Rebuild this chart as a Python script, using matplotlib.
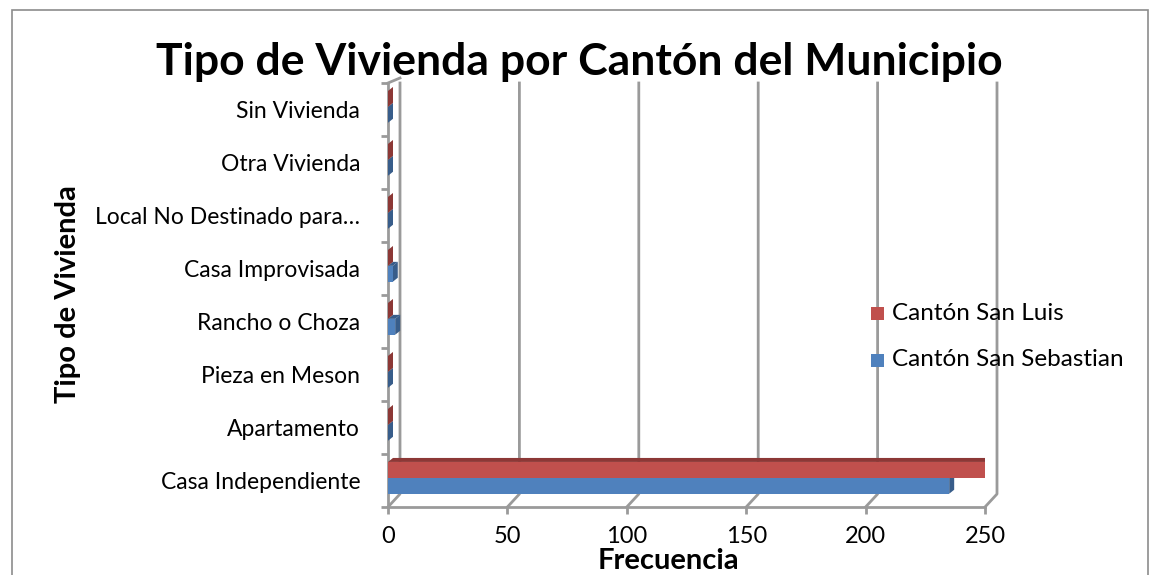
import matplotlib
matplotlib.use("Agg")
import numpy as np
import matplotlib.pyplot as plt
from matplotlib.patches import Polygon, Rectangle

categorias = ["Casa Independiente", "Apartamento", "Pieza en Meson", "Rancho o Choza",
              "Casa Improvisada", "Local No Destinado para…", "Otra Vivienda", "Sin Vivienda"]
san_luis = [250, 0, 0, 0, 0, 0, 0, 0]
san_sebastian = [235, 0, 0, 3, 2, 0, 0, 0]
x_ticks = [0, 50, 100, 150, 200, 250]

ROJO, ROJO_OSC = "#C0504D", "#8C3836"
AZUL, AZUL_OSC = "#4F81BD", "#385D8A"
GRIS = "#9A9A9A"

plt.rcParams['font.family'] = ['Lato', 'DejaVu Sans']

W, H = 1150, 575
fig = plt.figure(figsize=(W / 100, H / 100), dpi=100)
ax_l, ax_r, ax_t, ax_b = 388, 985, 83, 507
ax = fig.add_axes([ax_l / W, 1 - ax_b / H, (ax_r - ax_l) / W, (ax_b - ax_t) / H])
ax.set_xlim(0, 250)
ax.set_ylim(-0.5, len(categorias) - 0.5)

# pixeles -> unidades de datos
px_x = 250 / (ax_r - ax_l)
px_y = len(categorias) / (ax_b - ax_t)

# paredes 3D: lineas de cuadricula desplazadas hacia atras
wall_dx, wall_dy = 12 * px_x, 13 * px_y
y0 = -0.5
y_top = len(categorias) - 0.5
for xt in x_ticks:
    ax.plot([xt, xt + wall_dx, xt + wall_dx], [y0, y0 + wall_dy, y_top],
            color=GRIS, lw=2, clip_on=False, zorder=1)
ax.plot([0, wall_dx], [y_top, y_top + 5 * px_y], color=GRIS, lw=2, clip_on=False, zorder=1)

# barras con caras laterales
pos = np.arange(len(categorias))
h = 0.3
bar_dx, bar_dy = 5 * px_x, 4 * px_y
series = [(san_sebastian, pos - 0.15 + 0.05, AZUL, AZUL_OSC),
          (san_luis, pos + 0.15 + 0.05, ROJO, ROJO_OSC)]
for vals, ys, col, col_osc in series:
    for v, yc in zip(vals, ys):
        yb, yt = yc - h / 2, yc + h / 2
        top = Polygon([(0, yt), (bar_dx, yt + bar_dy), (v + bar_dx, yt + bar_dy), (v, yt)],
                      closed=True, facecolor=col_osc, edgecolor="none", zorder=3)
        side = Polygon([(v, yb), (v + bar_dx, yb + bar_dy), (v + bar_dx, yt + bar_dy), (v, yt)],
                       closed=True, facecolor=col_osc, edgecolor="none", zorder=3)
        ax.add_patch(top)
        ax.add_patch(side)
    ax.barh(ys, vals, height=h, color=col, zorder=4)

# ejes
for s in ["top", "right"]:
    ax.spines[s].set_visible(False)
for s in ["left", "bottom"]:
    ax.spines[s].set_color(GRIS)
    ax.spines[s].set_linewidth(2)
ax.set_facecolor("none")

ax.set_yticks(pos)
ax.set_yticklabels(categorias, fontsize=16.5)
ax.set_yticks(np.arange(len(categorias) + 1) - 0.5, minor=True)
ax.tick_params(axis="y", which="major", length=0, pad=20)
ax.tick_params(axis="y", which="minor", length=5, width=2, color=GRIS)
ax.set_xticks(x_ticks)
ax.set_xticklabels([str(t) for t in x_ticks], fontsize=17)
ax.tick_params(axis="x", length=5, width=2, color=GRIS, pad=9)

fig.text(579 / W, 1 - 62 / H, "Tipo de Vivienda por Cantón del Municipio",
         fontsize=32, fontweight="bold", ha="center", va="center")
fig.text(68 / W, 1 - 294 / H, "Tipo de Vivienda", fontsize=21, fontweight="bold",
         rotation=90, ha="center", va="center")
fig.text(668 / W, 1 - 561 / H, "Frecuencia", fontsize=21, fontweight="bold",
         ha="center", va="center")

# leyenda
leg_items = [("Cantón San Luis", ROJO), ("Cantón San Sebastian", AZUL)]
for i, (lab, col) in enumerate(leg_items):
    yy = 1 - (313 + 47 * i) / H
    fig.patches.append(Rectangle((871 / W, yy - 7 / H), 13 / W, 13 / H,
                                 transform=fig.transFigure, facecolor=col, edgecolor="none"))
    fig.text(892 / W, yy, lab, fontsize=17.5, ha="left", va="center")

# borde exterior
fig.patches.append(Rectangle((12 / W, -0.05), 1136 / W, 1.05 - 10 / H, transform=fig.transFigure,
                             fill=False, edgecolor="#8C8C8C", lw=1.2))

fig.savefig("out.png", dpi=100)
